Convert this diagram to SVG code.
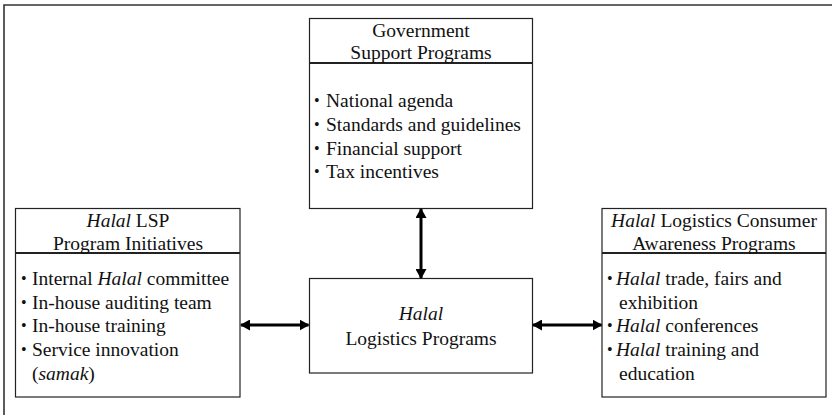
<svg xmlns="http://www.w3.org/2000/svg" width="832" height="415" viewBox="0 0 832 415">
<style>
  text { font-family: "Liberation Serif", "Times New Roman", serif; font-size: 19.5px; fill: #111; }
  .b { font-size: 16px; }
  .c { text-anchor: middle; }
  .i { font-style: italic; }
  .box { fill: #fff; stroke: #222; stroke-width: 1.2; }
  .div { stroke: #222; stroke-width: 2; }
  .frame { fill: none; stroke: #333; stroke-width: 1.6; }
  .conn { stroke: #000; stroke-width: 3; fill: none; marker-start: url(#ah); marker-end: url(#ah); }
</style>
<defs>
  <marker id="ah" viewBox="0 0 10 10" refX="9" refY="5" markerWidth="10" markerHeight="11" markerUnits="userSpaceOnUse" orient="auto-start-reverse" preserveAspectRatio="none">
    <path d="M0,0 L10,5 L0,10 z" fill="#000"/>
  </marker>
</defs>
<rect width="832" height="415" fill="#fff"/>
<path class="frame" d="M4,415 V5 H832"/>

<g id="government">
  <rect class="box" x="309.5" y="18.5" width="223" height="190"/>
  <line class="div" x1="309.5" y1="63" x2="532.5" y2="63"/>
  <text class="c" x="421" y="37">Government</text>
  <text class="c" x="421" y="59">Support Programs</text>
  <text class="b" x="314" y="106">•</text><text x="326" y="107">National agenda</text>
  <text class="b" x="314" y="130">•</text><text x="326" y="131">Standards and guidelines</text>
  <text class="b" x="314" y="154">•</text><text x="326" y="155">Financial support</text>
  <text class="b" x="314" y="177">•</text><text x="326" y="178">Tax incentives</text>
</g>

<g id="lsp">
  <rect class="box" x="15.5" y="208.5" width="224.5" height="188.5"/>
  <line class="div" x1="15.5" y1="253" x2="240" y2="253"/>
  <text class="c" x="128" y="227"><tspan class="i">Halal</tspan> LSP</text>
  <text class="c" x="128" y="250">Program Initiatives</text>
  <text class="b" x="21" y="284">•</text><text x="32" y="285">Internal <tspan class="i">Halal</tspan> committee</text>
  <text class="b" x="21" y="308">•</text><text x="32" y="309">In-house auditing team</text>
  <text class="b" x="21" y="331">•</text><text x="32" y="332">In-house training</text>
  <text class="b" x="21" y="355">•</text><text x="32" y="356">Service innovation</text>
  <text x="32" y="380">(<tspan class="i">samak</tspan>)</text>
</g>

<g id="logistics">
  <rect class="box" x="309.5" y="278.5" width="223" height="94.5"/>
  <text class="c i" x="421" y="320">Halal</text>
  <text class="c" x="421" y="345">Logistics Programs</text>
</g>

<g id="consumer">
  <rect class="box" x="602" y="208.5" width="224" height="188.5"/>
  <line class="div" x1="602" y1="253" x2="826" y2="253"/>
  <text class="c" x="714" y="227"><tspan class="i">Halal</tspan> Logistics Consumer</text>
  <text class="c" x="714" y="250">Awareness Programs</text>
  <text class="b" x="607" y="284">•</text><text x="616" y="285"><tspan class="i">Halal</tspan> trade, fairs and</text>
  <text x="619" y="309">exhibition</text>
  <text class="b" x="607" y="331">•</text><text x="616" y="332"><tspan class="i">Halal</tspan> conferences</text>
  <text class="b" x="607" y="355">•</text><text x="616" y="356"><tspan class="i">Halal</tspan> training and</text>
  <text x="619" y="380">education</text>
</g>

<g id="connectors">
  <line class="conn" x1="421" y1="209" x2="421" y2="278"/>
  <line class="conn" x1="241" y1="325" x2="308.5" y2="325"/>
  <line class="conn" x1="533" y1="325" x2="601.5" y2="325"/>
</g>
</svg>
